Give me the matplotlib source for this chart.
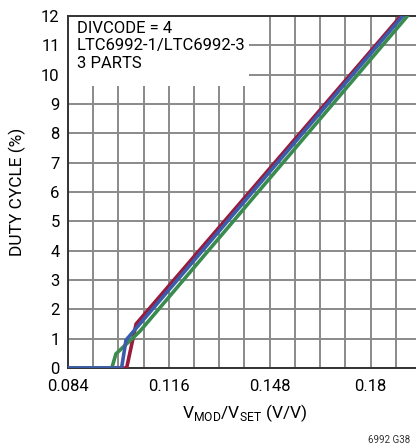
import matplotlib
matplotlib.use('Agg')
import matplotlib.pyplot as plt
from matplotlib.patches import Rectangle
import numpy as np

plt.rcParams['font.family'] = ['Roboto', 'DejaVu Sans']
plt.rcParams['mathtext.fontset'] = 'custom'
plt.rcParams['mathtext.rm'] = 'Roboto'

# duty cycle vs Vmod/Vset, three parts
red_x = [0.084, 0.1026, 0.1056, 0.1896]
red_y = [0, 0, 1.5, 12]
blue_x = [0.084, 0.1010, 0.1024, 0.1902]
blue_y = [0, 0, 0.95, 12]
green_x = [0.084, 0.0979, 0.0992, 0.1068, 0.1917]
green_y = [0, 0, 0.48, 1.25, 12]

x_ticks = [0.084, 0.116, 0.148, 0.18]
x_tick_labels = ['0.084', '0.116', '0.148', '0.18']
y_ticks = list(range(0, 13))

W, H = 416, 447
fig = plt.figure(figsize=(W / 100, H / 100), dpi=100)
ax_w, ax_h = 421 - 68, 368 - 16
ax = fig.add_axes([68 / W, 1 - 368 / H, ax_w / W, ax_h / H])

ax.plot(red_x, red_y, color='#9a1a3c', lw=2.6, solid_joinstyle='miter', zorder=3)
ax.plot(blue_x, blue_y, color='#3b5bab', lw=2.6, solid_joinstyle='miter', zorder=4)
ax.plot(green_x, green_y, color='#3a8c4e', lw=2.6, solid_joinstyle='miter', zorder=3)

ax.set_xlim(0.084, 0.196)
ax.set_ylim(0, 12)
ax.set_xticks(np.arange(0.084, 0.1961, 0.008), minor=True)
ax.set_xticks(x_ticks)
ax.set_xticklabels(x_tick_labels)
ax.set_yticks(y_ticks)
ax.grid(True, which='both', color='#8a8a8a', lw=1.4)
ax.set_axisbelow(True)
ax.tick_params(which='both', length=0, labelsize=12)
ax.tick_params(axis='x', pad=8)
ax.tick_params(axis='y', pad=6)
for s in ['left', 'bottom', 'top']:
    ax.spines[s].set_color('#333333')
    ax.spines[s].set_linewidth(1.4)
ax.spines['right'].set_visible(False)

ax.set_ylabel('DUTY CYCLE (%)', fontsize=12.5)
ax.yaxis.set_label_coords(-(68 - 17) / ax_w, 0.5)
ax.yaxis.label.set_va('center')
ax.set_xlabel(r'V$_{\mathrm{MOD}}$/V$_{\mathrm{SET}}$ (V/V)', fontsize=12.5)
ax.xaxis.set_label_coords((245 - 68) / ax_w, -(413 - 368) / ax_h)
ax.xaxis.label.set_va('center')

# white panel behind the note, grid hidden there
ax.add_patch(Rectangle((0, 1 - 70 / ax_h), 181 / ax_w, 70 / ax_h, transform=ax.transAxes,
                       facecolor='white', edgecolor='none', zorder=2))
ax.text(9 / ax_w, 1 - 5 / ax_h, 'DIVCODE = 4\nLTC6992-1/LTC6992-3\n3 PARTS',
        transform=ax.transAxes, fontsize=12, va='top', ha='left', linespacing=1.2,
        zorder=5)

fig.text(410 / W, 1 - 440 / H, '6992 G38', fontsize=7, ha='right', va='center', color='#333333')

fig.savefig('out.png', dpi=100)
